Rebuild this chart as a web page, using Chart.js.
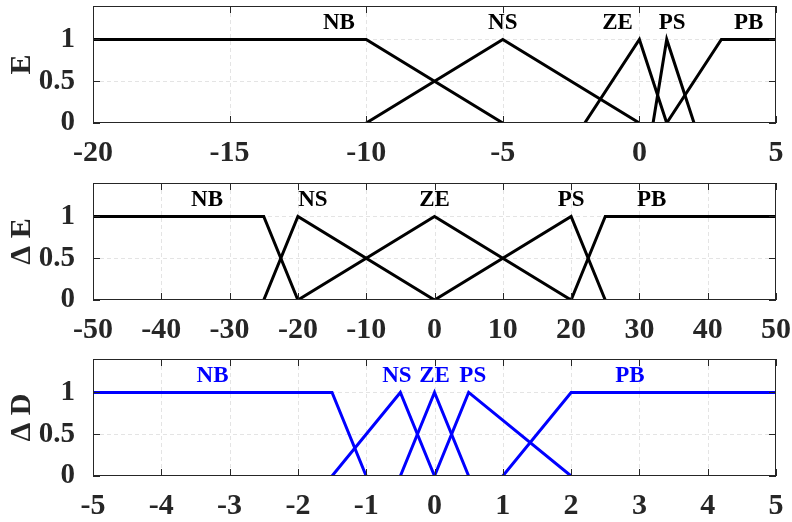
<!DOCTYPE html>
<html>
<head>
<meta charset="utf-8">
<script src="https://cdn.jsdelivr.net/npm/chart.js@4.4.1/dist/chart.umd.min.js"></script>
<style>
  html, body { margin: 0; padding: 0; background: #fff; }
  #wrap { position: relative; width: 792px; height: 522px; overflow: hidden; }
  canvas { position: absolute; left: 0; }
</style>
</head>
<body>
<div id="wrap">
  <canvas id="cE"  width="792" height="176" style="top:0px"></canvas>
  <canvas id="cDE" width="792" height="176" style="top:177px"></canvas>
  <canvas id="cDD" width="792" height="169" style="top:353px"></canvas>
</div>
<script>
// linguistic terms, same for the three variables
const terms = ['NB', 'NS', 'ZE', 'PS', 'PB'];
// membership grade at each breakpoint (trapezoid / triangle / triangle / triangle / trapezoid)
const grades = [[1, 1, 0], [0, 1, 0], [0, 1, 0], [0, 1, 0], [0, 1, 1]];
const yTicks = [0, 0.5, 1];

// E
const eTicks  = [-20, -15, -10, -5, 0, 5];
const eBreaks = [[-20, -10, -5], [-10, -5, 0], [-2, 0, 1], [0.5, 1, 2], [1, 3, 5]];
const eTagX   = [-11, -5, -0.8, 1.2, 4];

// delta E
const deTicks  = [-50, -40, -30, -20, -10, 0, 10, 20, 30, 40, 50];
const deBreaks = [[-50, -25, -20], [-25, -20, 0], [-20, 0, 20], [0, 20, 25], [20, 25, 50]];
const deTagX   = [-33.3, -17.8, 0, 20, 31.8];

// delta D
const ddTicks  = [-5, -4, -3, -2, -1, 0, 1, 2, 3, 4, 5];
const ddBreaks = [[-5, -1.5, -1], [-1.5, -0.5, 0], [-0.5, 0, 0.5], [0, 0.5, 2], [1, 2, 5]];
const ddTagX   = [-3.25, -0.55, 0, 0.56, 2.86];

const TAG_Y = 1.2;
const FONT = 'Liberation Serif, Times New Roman, serif';
const INK = '#262626';

// dashed grid, box, inward ticks and term labels
const framePlugin = {
  id: 'frame',
  beforeDatasetsDraw(chart) {
    const { ctx, chartArea: a, scales: { x, y } } = chart;
    ctx.save();
    ctx.strokeStyle = '#e4e4e4';
    ctx.lineWidth = 1;
    ctx.setLineDash([4, 3]);
    x.ticks.forEach(t => {
      const px = Math.round(x.getPixelForValue(t.value)) + 0.5;
      if (px <= a.left + 1 || px >= a.right - 1) return;
      ctx.beginPath(); ctx.moveTo(px, a.top); ctx.lineTo(px, a.bottom); ctx.stroke();
    });
    y.ticks.forEach(t => {
      const py = Math.round(y.getPixelForValue(t.value)) + 0.5;
      if (py >= a.bottom - 1) return;
      ctx.beginPath(); ctx.moveTo(a.left, py); ctx.lineTo(a.right, py); ctx.stroke();
    });
    ctx.restore();
  },
  afterDatasetsDraw(chart, args, opts) {
    const { ctx, chartArea: a, scales: { x, y } } = chart;
    const L = 7;
    ctx.save();
    ctx.strokeStyle = INK;
    ctx.lineWidth = 1;
    ctx.setLineDash([]);
    ctx.strokeRect(a.left + 0.5, a.top + 0.5, a.right - a.left - 1, a.bottom - a.top - 1);
    ctx.beginPath();
    x.ticks.forEach(t => {
      const px = Math.round(x.getPixelForValue(t.value)) + 0.5;
      ctx.moveTo(px, a.bottom); ctx.lineTo(px, a.bottom - L);
      ctx.moveTo(px, a.top); ctx.lineTo(px, a.top + L);
    });
    y.ticks.forEach(t => {
      const py = Math.round(y.getPixelForValue(t.value)) + 0.5;
      ctx.moveTo(a.left, py); ctx.lineTo(a.left + L, py);
      ctx.moveTo(a.right, py); ctx.lineTo(a.right - L, py);
    });
    ctx.stroke();

    ctx.fillStyle = opts.color;
    ctx.font = 'bold 23px ' + FONT;
    ctx.textAlign = 'center';
    ctx.textBaseline = 'middle';
    terms.forEach((name, i) => {
      ctx.fillText(name, x.getPixelForValue(opts.tagX[i]), y.getPixelForValue(TAG_Y));
    });
    ctx.restore();
  }
};

function makePanel(canvasId, title, xTicks, breaks, tagX, color) {
  const canvas = document.getElementById(canvasId);
  const H = canvas.height;
  const datasets = breaks.map((xs, i) => ({
    label: terms[i],
    data: xs.map((v, k) => ({ x: v, y: grades[i][k] })),
    borderColor: color,
    borderWidth: 3,
    pointRadius: 0,
    tension: 0,
    fill: false
  }));
  return new Chart(canvas, {
    type: 'line',
    data: { datasets },
    options: {
      responsive: false,
      animation: false,
      layout: { padding: { top: 6, right: 16, left: 0, bottom: 0 } },
      plugins: {
        legend: { display: false },
        tooltip: { enabled: false },
        frame: { tagX, color }
      },
      scales: {
        x: {
          type: 'linear',
          min: xTicks[0],
          max: xTicks[xTicks.length - 1],
          afterBuildTicks: s => { s.ticks = xTicks.map(v => ({ value: v })); },
          afterFit: s => {
            s.height = H - 6 - 117;
            s.paddingLeft = 0; s.paddingRight = 0;
          },
          grid: { display: false },
          border: { display: false },
          ticks: {
            color: INK,
            padding: 4,
            maxRotation: 0,
            autoSkip: false,
            font: { family: FONT, size: 30, weight: 'bold' },
            callback: v => String(v)
          }
        },
        y: {
          min: 0,
          max: 1.4,
          afterBuildTicks: s => { s.ticks = yTicks.map(v => ({ value: v })); },
          afterFit: s => {
            s.width = 93;
            s.paddingTop = 0; s.paddingBottom = 0;
          },
          grid: { display: false },
          border: { display: false },
          title: {
            display: true,
            text: title,
            color: INK,
            padding: { top: 4, bottom: 0 },
            font: { family: FONT, size: 30, weight: 'bold' }
          },
          ticks: {
            color: INK,
            padding: 10,
            font: { family: FONT, size: 29, weight: 'bold' },
            callback: v => String(v)
          }
        }
      }
    },
    plugins: [framePlugin]
  });
}

makePanel('cE',  'E',   eTicks,  eBreaks,  eTagX,  '#000000');
makePanel('cDE', 'Δ E', deTicks, deBreaks, deTagX, '#000000');
makePanel('cDD', 'Δ D', ddTicks, ddBreaks, ddTagX, '#0000ff');
</script>
</body>
</html>
